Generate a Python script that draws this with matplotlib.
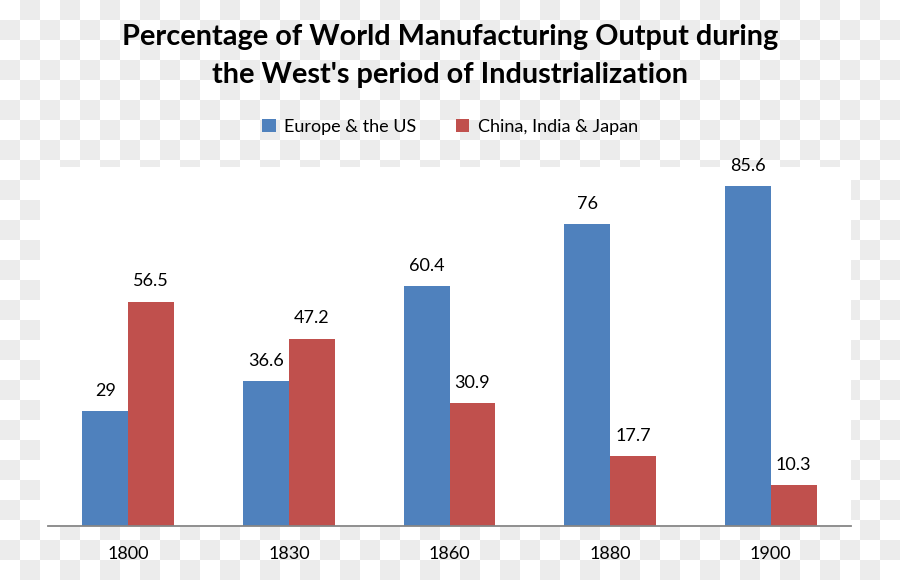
import numpy as np
import matplotlib
matplotlib.use("Agg")
import matplotlib.pyplot as plt
from matplotlib.patches import Rectangle

years = ["1800", "1830", "1860", "1880", "1900"]
west = [29, 36.6, 60.4, 76, 85.6]
asia = [56.5, 47.2, 30.9, 17.7, 10.3]
series_names = ["Europe & the US", "China, India & Japan"]
title = "Percentage of World Manufacturing Output during\nthe West's period of Industrialization"

BLUE = "#4f81bd"
RED = "#c0504d"
FONT = "Lato"

W, H = 900, 580
fig = plt.figure(figsize=(W / 100, H / 100), dpi=100)

# checkerboard background (transparency pattern in the reference)
yy, xx = np.mgrid[0:H, 0:W]
checker = ((xx // 20 + yy // 20) % 2).astype(float)
img = np.ones((H, W, 3))
img[checker == 1] = np.array([0xec, 0xec, 0xec]) / 255.0
fig.figimage(img, 0, 0, zorder=-10)

# white chart area
fig.patches.append(Rectangle((40 / W, (H - 527) / H), (851 - 40) / W, (527 - 167) / H,
                             transform=fig.transFigure, facecolor="white",
                             edgecolor="none", zorder=-5))

ax = fig.add_axes([48 / W, (H - 526) / H, (851 - 48) / W, (526 - 167) / H])
ax.set_facecolor("white")
ax.patch.set_alpha(0)

x = np.arange(len(years))
bw = 0.286
b1 = ax.bar(x - bw / 2, west, bw, color=BLUE, label=series_names[0], zorder=2)
b2 = ax.bar(x + bw / 2, asia, bw, color=RED, label=series_names[1], zorder=2)

for bars, vals in ((b1, west), (b2, asia)):
    for rect, v in zip(bars, vals):
        ax.annotate(f"{v:g}", (rect.get_x() + rect.get_width() / 2, v),
                    xytext=(0, 14.5), textcoords="offset points",
                    ha="center", va="center", fontsize=13, family=FONT,
                    color="#000000")

ax.set_xlim(-0.5, len(years) - 0.5)
ax.set_ylim(0, 90.4)
ax.set_xticks(x)
ax.set_xticklabels(years, fontsize=13, family=FONT)
ax.tick_params(axis="x", length=0, pad=14.5)
ax.set_yticks([])
for s in ("top", "right", "left"):
    ax.spines[s].set_visible(False)
ax.spines["bottom"].set_color("#868686")
ax.spines["bottom"].set_linewidth(1.3)

fig.text(0.5, (H - 56) / H, title, ha="center", va="center", fontsize=20.8,
         fontweight="bold", family=FONT, linespacing=1.55)

leg = fig.legend(handles=[b1, b2], labels=series_names, loc="center",
                 bbox_to_anchor=(0.5, (H - 127) / H), ncol=2, frameon=False,
                 prop={"family": FONT, "size": 13}, handlelength=0.75,
                 handleheight=0.75, handletextpad=0.45, columnspacing=2.2)

fig.savefig("out.png", dpi=100)
